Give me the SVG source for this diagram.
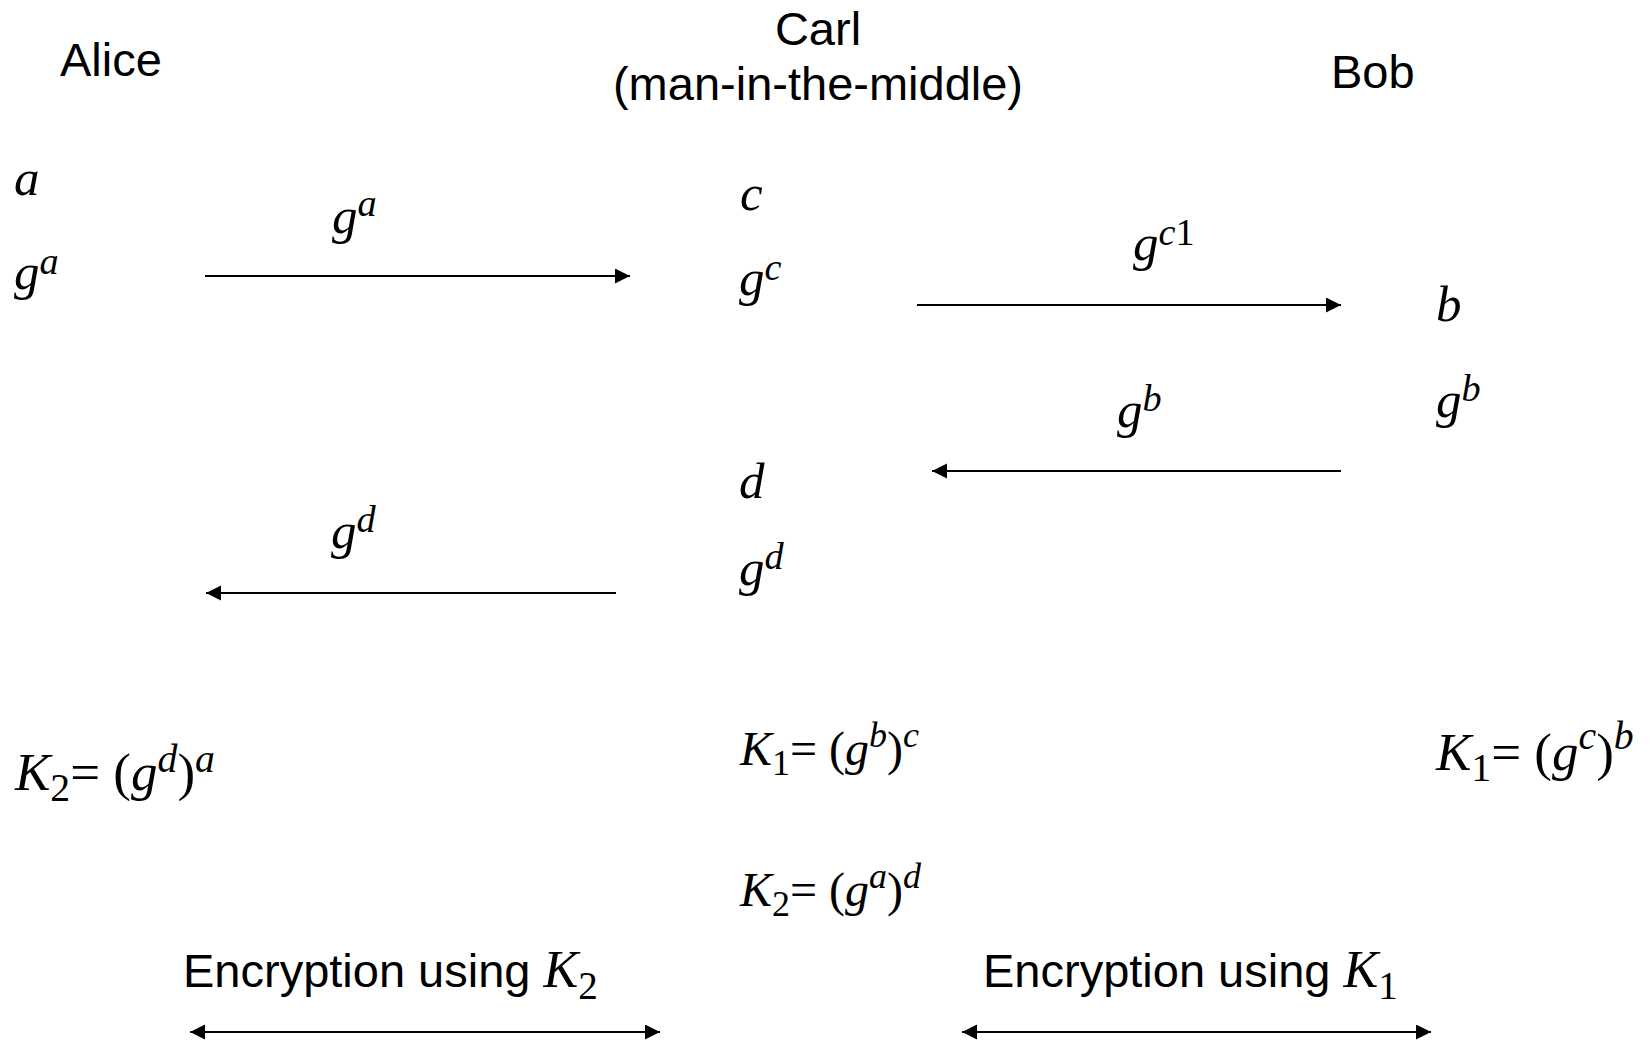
<svg xmlns="http://www.w3.org/2000/svg" width="1650" height="1043" viewBox="0 0 1650 1043">
  <style>
    .h { font-family: "Liberation Sans", Arial, sans-serif; font-size: 47px; fill: #000; }
    .m { font-family: "Liberation Serif", "Times New Roman", serif; font-style: italic; font-size: 51px; fill: #000; }
    .r { font-style: normal; }
    .s { font-size: 75%; }
    .ln { stroke: #000; stroke-width: 2; fill: none; }
  </style>
  <defs>
    <marker id="ah" markerUnits="userSpaceOnUse" markerWidth="16" markerHeight="16" refX="15" refY="7.5" orient="auto-start-reverse">
      <path d="M0,0 L15,7.5 L0,15 Z" fill="#000"/>
    </marker>
  </defs>
  <rect width="1650" height="1043" fill="#fff"/>

  <g id="alice">
    <text class="h" x="60" y="76">Alice</text>
    <text class="m" x="14" y="195">a</text>
    <text class="m" x="14" y="289">g<tspan class="s" dy="-15">a</tspan></text>
    <text class="m" x="15" y="790" style="font-size:53px">K<tspan class="s r" dy="11">2</tspan><tspan class="r" dy="-11">= (</tspan>g<tspan class="s" dy="-18">d</tspan><tspan class="r" dy="18">)</tspan><tspan class="s" dy="-18">a</tspan></text>
  </g>

  <g id="carl">
    <text class="h" x="818" y="45" text-anchor="middle">Carl</text>
    <text class="h" x="818" y="100" text-anchor="middle">(man-in-the-middle)</text>
    <text class="m" x="740" y="210">c</text>
    <text class="m" x="739" y="295">g<tspan class="s" dy="-15">c</tspan></text>
    <text class="m" x="739" y="498">d</text>
    <text class="m" x="739" y="585">g<tspan class="s" dy="-16">d</tspan></text>
    <text class="m" x="740" y="765" style="font-size:48px">K<tspan class="s r" dy="10">1</tspan><tspan class="r" dy="-10">= (</tspan>g<tspan class="s" dy="-18">b</tspan><tspan class="r" dy="18">)</tspan><tspan class="s" dy="-18">c</tspan></text>
    <text class="m" x="740" y="906" style="font-size:48px">K<tspan class="s r" dy="10">2</tspan><tspan class="r" dy="-10">= (</tspan>g<tspan class="s" dy="-18">a</tspan><tspan class="r" dy="18">)</tspan><tspan class="s" dy="-18">d</tspan></text>
  </g>

  <g id="bob">
    <text class="h" x="1331" y="88">Bob</text>
    <text class="m" x="1436" y="321">b</text>
    <text class="m" x="1436" y="417">g<tspan class="s" dy="-16">b</tspan></text>
    <text class="m" x="1436" y="770" style="font-size:53px">K<tspan class="s r" dy="11">1</tspan><tspan class="r" dy="-11">= (</tspan>g<tspan class="s" dy="-21">c</tspan><tspan class="r" dy="21">)</tspan><tspan class="s" dy="-21">b</tspan></text>
  </g>

  <g id="labels">
    <text class="m" x="332" y="233">g<tspan class="s" dy="-17">a</tspan></text>
    <text class="m" x="1133" y="260">g<tspan class="s" dy="-15">c<tspan class="r">1</tspan></tspan></text>
    <text class="m" x="1117" y="427">g<tspan class="s" dy="-16">b</tspan></text>
    <text class="m" x="331" y="548">g<tspan class="s" dy="-16">d</tspan></text>
    <text class="h" x="183" y="987">Encryption using <tspan class="m" style="font-size:52px">K<tspan class="s r" dy="12">2</tspan></tspan></text>
    <text class="h" x="983" y="987">Encryption using <tspan class="m" style="font-size:52px">K<tspan class="s r" dy="12">1</tspan></tspan></text>
  </g>

  <g id="connectors">
    <line class="ln" x1="205" y1="276" x2="630" y2="276" marker-end="url(#ah)"/>
    <line class="ln" x1="917" y1="305" x2="1341" y2="305" marker-end="url(#ah)"/>
    <line class="ln" x1="1341" y1="471" x2="932" y2="471" marker-end="url(#ah)"/>
    <line class="ln" x1="616" y1="593" x2="206" y2="593" marker-end="url(#ah)"/>
    <line class="ln" x1="190" y1="1032" x2="660" y2="1032" marker-start="url(#ah)" marker-end="url(#ah)"/>
    <line class="ln" x1="962" y1="1032" x2="1431" y2="1032" marker-start="url(#ah)" marker-end="url(#ah)"/>
  </g>
</svg>
